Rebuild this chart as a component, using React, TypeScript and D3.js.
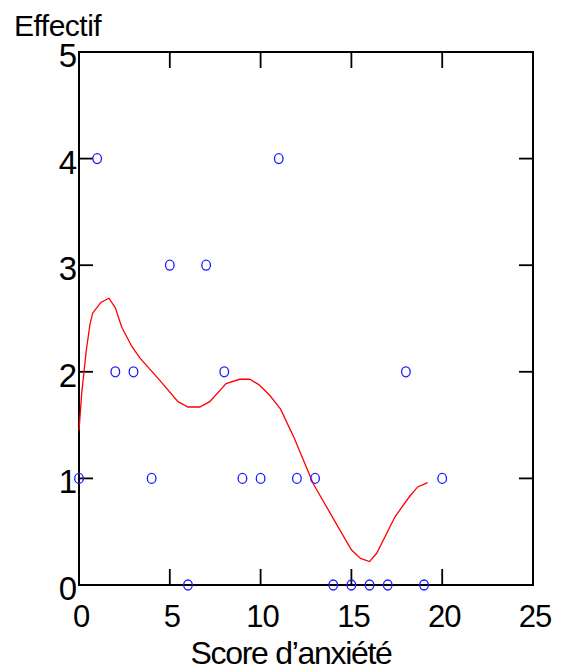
import React, { useEffect, useRef } from 'react';
import * as d3 from 'd3';

// observed counts per score
const scores = [0, 1, 2, 3, 4, 5, 6, 7, 8, 9, 10, 11, 12, 13, 14, 15, 16, 17, 18, 19, 20];
const counts = [1, 4, 2, 2, 1, 3, 0, 3, 2, 1, 1, 4, 1, 1, 0, 0, 0, 0, 2, 0, 1];

// smoothed curve
const curveX = [0, 0.15, 0.4, 0.6, 0.75, 1.2, 1.65, 2.0, 2.35, 2.9, 3.35, 4.45, 5.45, 6.0, 6.65, 7.2, 8.1, 8.85, 9.4, 9.9, 10.5, 11.1, 11.85, 12.9, 14.25, 15.0, 15.5, 16.0, 16.4, 17.4, 18.2, 18.65, 19.2];
const curveY = [1.45, 1.8, 2.2, 2.44, 2.55, 2.65, 2.69, 2.6, 2.42, 2.24, 2.13, 1.92, 1.72, 1.67, 1.67, 1.72, 1.89, 1.93, 1.93, 1.88, 1.78, 1.65, 1.38, 0.95, 0.55, 0.33, 0.25, 0.22, 0.3, 0.64, 0.83, 0.92, 0.96];

const xTicks = [0, 5, 10, 15, 20, 25];
const yTicks = [0, 1, 2, 3, 4, 5];

const W = 569;
const H = 669;
const left = 79;
const right = 533;
const top = 52;
const bottom = 585;

export default function App() {
  const ref = useRef<SVGSVGElement>(null);

  useEffect(() => {
    const svg = d3.select(ref.current);
    svg.selectAll('*').remove();

    const x = d3.scaleLinear().domain([0, 25]).range([left, right]);
    const y = d3.scaleLinear().domain([0, 5]).range([bottom, top]);
    const font = 'Liberation Sans, Arial, sans-serif';

    // frame
    svg.append('rect')
      .attr('x', left).attr('y', top)
      .attr('width', right - left).attr('height', bottom - top)
      .attr('fill', 'none').attr('stroke', '#000').attr('stroke-width', 2);

    // inward ticks
    xTicks.forEach(t => {
      svg.append('line').attr('x1', x(t)).attr('x2', x(t)).attr('y1', bottom).attr('y2', bottom - 16)
        .attr('stroke', '#000').attr('stroke-width', 1.8);
      svg.append('line').attr('x1', x(t)).attr('x2', x(t)).attr('y1', top).attr('y2', top + 16)
        .attr('stroke', '#000').attr('stroke-width', 1.8);
      svg.append('text').attr('x', x(t) + 2).attr('y', 627)
        .attr('text-anchor', 'middle').attr('font-family', font).attr('font-size', 31)
        .attr('letter-spacing', -1).text(t);
    });
    yTicks.forEach(t => {
      svg.append('line').attr('x1', left).attr('x2', left + 14).attr('y1', y(t)).attr('y2', y(t))
        .attr('stroke', '#000').attr('stroke-width', 1.8);
      svg.append('line').attr('x1', right).attr('x2', right - 14).attr('y1', y(t)).attr('y2', y(t))
        .attr('stroke', '#000').attr('stroke-width', 1.8);
      svg.append('text').attr('x', 77).attr('y', y(t) + 15)
        .attr('text-anchor', 'end').attr('font-family', font).attr('font-size', 33)
        .text(t);
    });

    // smoothed line
    const line = d3.line<number>()
      .x((d, i) => x(curveX[i]))
      .y(d => y(d));
    svg.append('path')
      .attr('d', line(curveY))
      .attr('fill', 'none').attr('stroke', '#ff0000').attr('stroke-width', 1.3);

    // points
    svg.selectAll('ellipse.pt').data(scores).enter()
      .append('ellipse')
      .attr('cx', d => x(d))
      .attr('cy', (d, i) => y(counts[i]))
      .attr('rx', 4.3).attr('ry', 5)
      .attr('fill', 'none').attr('stroke', '#1a1aff').attr('stroke-width', 1.3);

    // labels
    svg.append('text').attr('x', 14).attr('y', 36)
      .attr('font-family', font).attr('font-size', 30).attr('letter-spacing', -0.5)
      .text('Effectif');
    svg.append('text').attr('x', 291).attr('y', 664)
      .attr('text-anchor', 'middle')
      .attr('font-family', font).attr('font-size', 32).attr('letter-spacing', -1.3)
      .text('Score d\u2019anxiété');
  }, []);

  return (
    <svg ref={ref} width={W} height={H}
      style={{ position: 'absolute', left: 0, top: 0, background: '#fff' }} />
  );
}
